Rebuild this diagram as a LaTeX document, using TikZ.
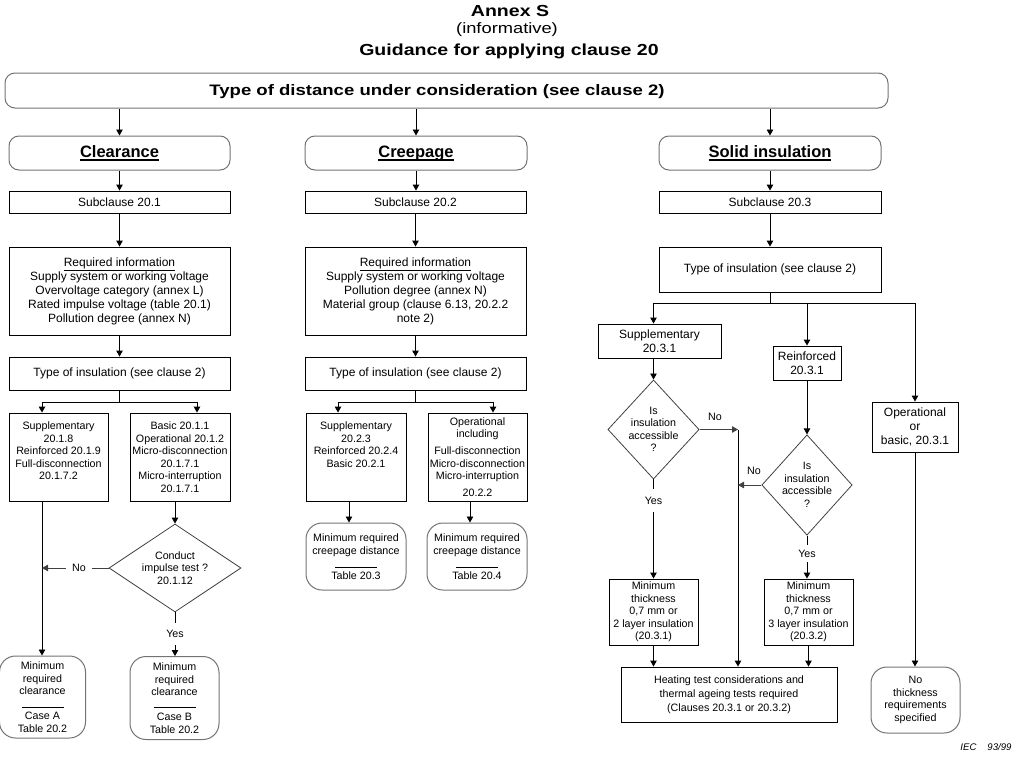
\documentclass[tikz,border=0pt]{standalone}
\usepackage{fontspec}
\setmainfont{Liberation Sans}
\newfontfamily\titlefont{Liberation Sans}[FakeStretch=1.22]
\usetikzlibrary{arrows.meta,shapes.geometric}
\newcommand\thul[1]{\leavevmode\setbox0=\hbox{#1}\rlap{\rule[-3.5pt]{\wd0}{1.8pt}}\box0}
\begin{document}
\begin{tikzpicture}[x=1pt,y=-1pt,
  every node/.style={inner sep=0pt, align=center},
  up/.style={font=\fontsize{12}{14}\selectfont},
  lo/.style={font=\fontsize{10.7}{12.5}\selectfont},
  hd/.style={font=\bfseries\fontsize{16.5}{18}\selectfont},
  sz/.style 2 args={minimum width=#1, minimum height=#2},
  rect/.style={draw, line width=0.9pt},
  rnd/.style={draw=black!55, line width=1pt, rounded corners=10pt},
  rndb/.style={draw=black!55, line width=1pt, rounded corners=16pt},
  dia/.style={diamond, draw=black!75, line width=0.8pt},
  ln/.style={line width=0.9pt},
  gln/.style={line width=0.9pt, draw=black!75},
  arr/.style={line width=0.9pt, -{Triangle[length=6pt,width=6.5pt]}},
  garr/.style={arr, draw=black!75}
]
\path[use as bounding box] (0,0) rectangle (1029,779);

% titles
\node[font=\titlefont\bfseries\fontsize{16}{18}\selectfont] (annex) at (510,10.5) {Annex S};
\node[font=\titlefont\fontsize{15}{17}\selectfont] (inf) at (507,30) {(informative)};
\node[font=\titlefont\bfseries\fontsize{16}{18}\selectfont] (guid) at (509,51) {Guidance for applying clause 20};

% top box
\node[rnd, sz={883}{35}] (top) at (446.5,90.5) {};
\node[font=\titlefont\bfseries\fontsize{15.2}{18}\selectfont] (toptxt) at (437,91.5) {Type of distance under consideration (see clause 2)};

% category boxes
\node[rnd, sz={221}{34}, hd] (clear) at (119.5,153) {\thul{Clearance}};
\node[rnd, sz={222}{34}, hd] (creep) at (416,153) {\thul{Creepage}};
\node[rnd, sz={222}{34}, hd] (solid) at (770,153) {\thul{Solid insulation}};

% subclauses
\node[rect, sz={221}{22}, up] (sub1) at (119.5,202) {Subclause 20.1};
\node[rect, sz={221}{22}, up] (sub2) at (415.5,202) {Subclause 20.2};
\node[rect, sz={222}{22}, up] (sub3) at (770,202) {Subclause 20.3};

% required information
\node[rect, sz={221}{88}, up] (req1) at (119.5,291) {\underline{Required information}\\Supply system or working voltage\\Overvoltage category (annex L)\\Rated impulse voltage (table 20.1)\\Pollution degree (annex N)};
\node[rect, sz={221}{88}, up] (req2) at (415.5,291) {\underline{Required information}\\Supply system or working voltage\\Pollution degree (annex N)\\Material group (clause 6.13, 20.2.2\\note 2)};
\node[rect, sz={222}{45}, up] (typ3) at (770,269.5) {Type of insulation (see clause 2)};

% type of insulation
\node[rect, sz={221}{33}, up] (typ1) at (119.5,373.5) {Type of insulation (see clause 2)};
\node[rect, sz={221}{33}, up] (typ2) at (415.5,373.5) {Type of insulation (see clause 2)};

% clearance branch
\node[rect, sz={99}{88}, lo] (c1a) at (58.5,457) {Supplementary\\20.1.8\\Reinforced 20.1.9\\Full-disconnection\\20.1.7.2\\\mbox{}};
\node[rect, sz={100}{88}, lo] (c1b) at (180,457) {Basic 20.1.1\\Operational 20.1.2\\Micro-disconnection\\20.1.7.1\\Micro-interruption\\20.1.7.1};
\node[dia, aspect=1.5, sz={132}{88}, lo] (d1) at (175,568) {Conduct\\impulse test ?\\20.1.12};
\node[rndb, sz={86}{82}, lo] (ma) at (42.5,697) {Minimum\\required\\clearance\\[12.5pt]Case A\\Table 20.2};
\node[rndb, sz={89}{83}, lo] (mb) at (174.5,698) {Minimum\\required\\clearance\\[12.5pt]Case B\\Table 20.2};
\draw[line width=0.7pt] ([xshift=-21pt,yshift=-10pt]ma.center) -- ++(42,0);
\draw[line width=0.7pt] ([xshift=-21pt,yshift=-9pt]mb.center) -- ++(42,0);
\node[lo, inner xsep=6pt] (no1) at (79,568) {No};
\node[lo, minimum height=22pt] (yes1) at (175,634) {Yes};

% creepage branch
\node[rect, sz={100}{88}, lo] (cra) at (356,457) {Supplementary\\20.2.3\\Reinforced 20.2.4\\Basic 20.2.1\\\mbox{}\\\mbox{}};
\node[rect, sz={99}{88}, lo] (crb) at (477.5,457) {Operational\\including\\[4.5pt]Full-disconnection\\Micro-disconnection\\Micro-interruption\\[4.5pt]20.2.2};
\node[rndb, sz={100}{67}, lo] (mca) at (356,556.5) {Minimum required\\creepage distance\\[12.5pt]Table 20.3};
\node[rndb, sz={100}{67}, lo] (mcb) at (477,556.5) {Minimum required\\creepage distance\\[12.5pt]Table 20.4};
\draw[line width=0.7pt] ([xshift=-21pt,yshift=-10.5pt]mca.center) -- ++(42,0);
\draw[line width=0.7pt] ([xshift=-21pt,yshift=-10.5pt]mcb.center) -- ++(42,0);

% solid insulation branch
\node[rect, sz={123}{34}, up] (supp) at (659.5,341) {Supplementary\\20.3.1};
\node[rect, sz={68}{34}, up] (reinf) at (807,363) {Reinforced\\20.3.1};
\node[rect, sz={86}{50}, up] (oper) at (915,427) {Operational\\or\\basic, 20.3.1};
\node[dia, aspect=0.92, sz={89}{97}, lo] (d2) at (653.5,429.5) {Is\\insulation\\accessible\\?};
\node[dia, aspect=0.9, sz={88}{98}, lo] (d3) at (807,485) {Is\\insulation\\accessible\\?};
\node[rect, sz={89}{66}, lo] (mta) at (653.5,612) {Minimum\\thickness\\0,7 mm or\\2 layer insulation\\(20.3.1)};
\node[rect, sz={89}{66}, lo] (mtb) at (808.5,612) {Minimum\\thickness\\0,7 mm or\\3 layer insulation\\(20.3.2)};
\node[rect, sz={216}{55}, lo, font=\fontsize{10.7}{14}\selectfont] (heat) at (729,694.5) {Heating test considerations and\\thermal ageing tests required\\(Clauses 20.3.1 or 20.3.2)};
\node[rndb, sz={89}{66}, lo] (noth) at (915.5,700) {No\\thickness\\requirements\\specified};
\node[lo] (no2) at (715,417) {No};
\node[lo] (no3) at (754,471) {No};
\node[lo, minimum height=23pt] (yes2) at (653.5,500.5) {Yes};
\node[lo, minimum height=17pt] (yes3) at (807,553.5) {Yes};
\coordinate (vtop) at (738,429.5);

\node[font=\itshape\fontsize{9.6}{11}\selectfont] (iec) at (986,747) {IEC\hspace{11pt}93/99};

% connectors: top level
\draw[arr] (top.south -| clear) -- (clear.north);
\draw[arr] (top.south -| creep) -- (creep.north);
\draw[arr] (top.south -| solid) -- (solid.north);
\draw[arr] (clear.south) -- (sub1.north);
\draw[arr] (creep.south) -- (creep.south |- sub2.north);
\draw[arr] (solid.south) -- (sub3.north);
\draw[arr] (sub1.south) -- (req1.north);
\draw[arr] (sub2.south) -- (req2.north);
\draw[arr] (sub3.south) -- (typ3.north);
\draw[arr] (req1.south) -- (typ1.north);
\draw[arr] (req2.south) -- (typ2.north);

% clearance connectors
\draw[ln] (typ1.south) -- ++(0,12) coordinate (j1);
\draw[arr] (j1) -| ([xshift=-16.5pt]c1a.north);
\draw[arr] (j1) -| ([xshift=17pt]c1b.north);
\coordinate (c1aout) at ([xshift=-16.5pt]c1a.south);
\draw[arr] (c1aout) -- (c1aout |- ma.north);
\draw[arr] (c1b.south -| d1.north) -- (d1.north);
\draw[gln] (d1.west) -- (no1.east);
\draw[garr] (no1.west) -- (no1.west -| c1aout);
\draw[ln] (d1.south) -- (yes1.north);
\draw[arr] (yes1.south) -- (yes1.south |- mb.north);

% creepage connectors
\draw[ln] (typ2.south) -- ++(0,12) coordinate (j2);
\draw[arr] (j2) -| ([xshift=-18pt]cra.north);
\draw[arr] (j2) -| ([xshift=15.5pt]crb.north);
\draw[arr] ([xshift=-7pt]cra.south) -- ([xshift=-7pt]cra.south |- mca.north);
\draw[arr] ([xshift=-7.5pt]crb.south) -- ([xshift=-7.5pt]crb.south |- mcb.north);

% solid connectors
\draw[ln] (typ3.south) -- ++(0,10.5) coordinate (j3);
\draw[arr] (j3) -| ([xshift=-6pt]supp.north);
\draw[arr] (j3) -| (reinf.north);
\draw[arr] (j3) -| (oper.north);
\draw[arr] ([xshift=-6pt]supp.south) -- (d2.north);
\draw[arr] (reinf.south) -- (d3.north);
\draw[garr] (d2.east) -- (vtop);
\draw[arr] (vtop) -- (vtop |- heat.north);
\draw[garr] (d3.west) -- (d3.west -| vtop);
\draw[ln] (d2.south) -- (yes2.north);
\draw[arr] (yes2.south) -- (mta.north);
\draw[ln] (d3.south) -- (yes3.north);
\draw[arr] (yes3.south) -- (yes3.south |- mtb.north);
\draw[arr] (mta.south) -- (mta.south |- heat.north);
\draw[arr] (mtb.south) -- (mtb.south |- heat.north);
\draw[arr] (oper.south) -- (oper.south |- noth.north);
\end{tikzpicture}
\end{document}
